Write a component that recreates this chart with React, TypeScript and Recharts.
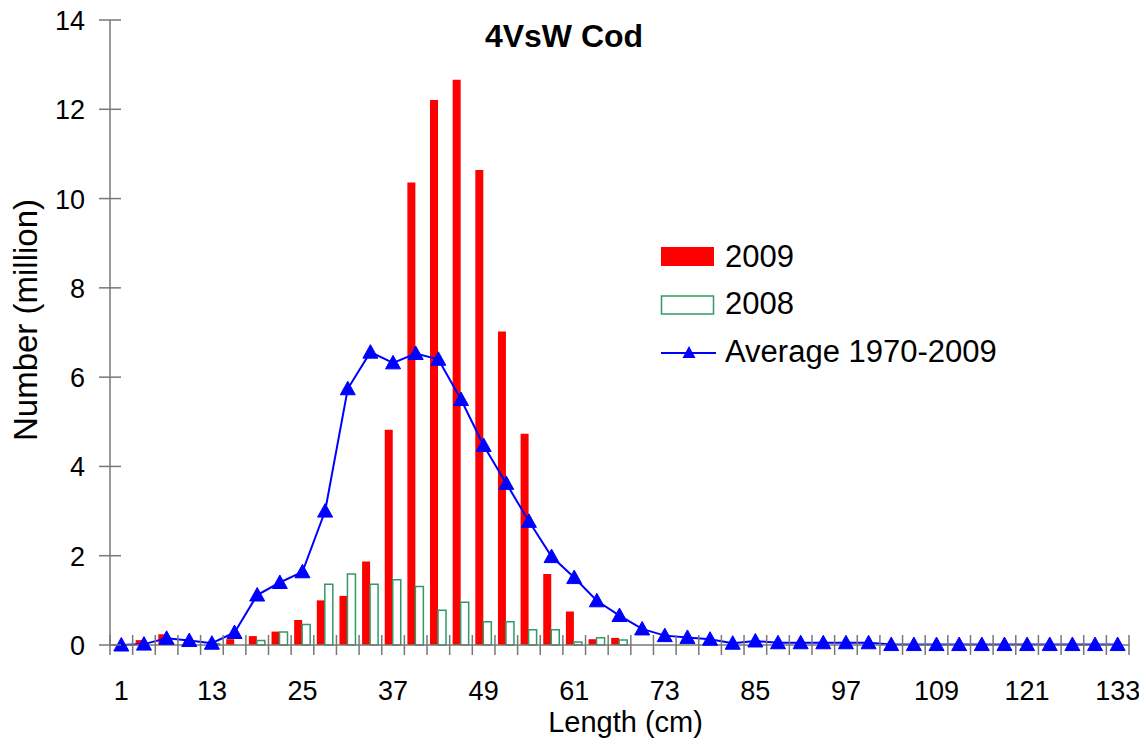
import React from "react";
import {
  ComposedChart,
  Bar,
  Line,
  XAxis,
  YAxis,
  Legend,
} from "recharts";

// length classes (cm)
const lengths = [
  1, 4, 7, 10, 13, 16, 19, 22, 25, 28, 31, 34, 37, 40, 43, 46, 49, 52, 55, 58,
  61, 64, 67, 70, 73, 76, 79, 82, 85, 88, 91, 94, 97, 100, 103, 106, 109, 112,
  115, 118, 121, 124, 127, 130, 133,
];

// numbers at length, millions
const n2009 = [
  0, 0.11, 0.24, 0, 0, 0.13, 0.2, 0.3, 0.56, 1.0, 1.1, 1.87, 4.82, 10.36, 12.21,
  12.66, 10.64, 7.02, 4.73, 1.59, 0.75, 0.13, 0.16, 0, 0, 0, 0, 0, 0, 0, 0, 0,
  0, 0, 0, 0, 0, 0, 0, 0, 0, 0, 0, 0, 0,
];

const n2008 = [
  0, 0, 0, 0, 0.03, 0, 0.1, 0.29, 0.46, 1.36, 1.59, 1.36, 1.46, 1.31, 0.78,
  0.96, 0.52, 0.52, 0.34, 0.34, 0.07, 0.16, 0.11, 0, 0, 0, 0, 0, 0, 0, 0, 0, 0,
  0, 0, 0, 0, 0, 0, 0, 0, 0, 0, 0, 0,
];

const avg = [
  0, 0.02, 0.15, 0.1, 0.04, 0.28, 1.12, 1.4, 1.64, 3.0, 5.74, 6.56, 6.32, 6.53,
  6.4, 5.5, 4.47, 3.62, 2.77, 1.98, 1.51, 0.99, 0.66, 0.36, 0.21, 0.17, 0.13,
  0.04, 0.09, 0.05, 0.05, 0.05, 0.05, 0.05, 0.01, 0.01, 0.01, 0.01, 0.01, 0.01,
  0.01, 0.01, 0.01, 0.01, 0.01,
];

const yTicks = [0, 2, 4, 6, 8, 10, 12, 14];

const data = lengths.map((len, i) => ({
  len,
  y2009: n2009[i],
  y2008: n2008[i],
  avg: avg[i],
}));

const FONT = "'Liberation Sans', Arial, Helvetica, sans-serif";
const AXIS = "#777";
// chart is pulled over the body margin so it covers the whole window
const W = 1147;
const H = 750;
const M = { top: 20, right: 18, left: 50, bottom: 25 };
const Y_W = 60;
const plotW = W - M.left - M.right - Y_W;
const band = plotW / lengths.length;

const Triangle = (props: any) => {
  const { cx, cy } = props;
  if (cx == null || cy == null) return null;
  return (
    <polygon
      points={`${cx},${cy - 7.5} ${cx - 7.5},${cy + 6} ${cx + 7.5},${cy + 6}`}
      fill="#0000ff"
      stroke="#0000ff"
      strokeWidth={1}
    />
  );
};

const XTick = (props: any) => {
  const { x, y, index, payload } = props;
  const half = payload && payload.offset ? payload.offset : band / 2;
  const last = index === lengths.length - 1;
  return (
    <g>
      <line x1={x - half} x2={x - half} y1={y - 10} y2={y + 10} stroke={AXIS} strokeWidth={1.5} />
      {last && (
        <line x1={x + half} x2={x + half} y1={y - 10} y2={y + 10} stroke={AXIS} strokeWidth={1.5} />
      )}
      {index % 4 === 0 && (
        <text x={x} y={y + 55} textAnchor="middle" fontSize={27} fill="#000" fontFamily={FONT}>
          {payload.value}
        </text>
      )}
    </g>
  );
};

const YTick = (props: any) => {
  const { x, y, payload } = props;
  return (
    <g>
      <line x1={x - 11} x2={x + 11} y1={y} y2={y} stroke={AXIS} strokeWidth={1.5} />
      <text x={x - 25} y={y + 10} textAnchor="end" fontSize={27} fill="#000" fontFamily={FONT}>
        {payload.value}
      </text>
    </g>
  );
};

const XTitle = (props: any) => {
  const { viewBox } = props;
  return (
    <text
      x={viewBox.x + viewBox.width / 2 + 6}
      y={viewBox.y + 87}
      textAnchor="middle"
      fontSize={29}
      fill="#000"
      fontFamily={FONT}
    >
      Length (cm)
    </text>
  );
};

const YTitle = () => {
  const cx = 25;
  const cy = 320;
  return (
    <text
      x={cx}
      y={cy}
      transform={`rotate(-90 ${cx} ${cy})`}
      textAnchor="middle"
      dominantBaseline="central"
      fontSize={33}
      fill="#000"
      fontFamily={FONT}
    >
      Number (million)
    </text>
  );
};

const LegendBox = () => (
  <svg width={400} height={150} style={{ overflow: "visible" }}>
    <rect x={6} y={12} width={53} height={19} fill="#ff0000" />
    <text x={70} y={32} fontSize={31} fontFamily={FONT} fill="#000">2009</text>
    <rect x={6.5} y={61} width={52} height={18} fill="#fff" stroke="#339966" strokeWidth={1.5} />
    <text x={70} y={79} fontSize={31} fontFamily={FONT} fill="#000">2008</text>
    <line x1={6} x2={61} y1={118} y2={118} stroke="#0000ff" strokeWidth={2} />
    <polygon points="34,111 27.5,123 40.5,123" fill="#0000ff" />
    <text x={70} y={127} fontSize={31} fontFamily={FONT} fill="#000">Average 1970-2009</text>
  </svg>
);

export default function App() {
  return (
    <div
      style={{
        position: "relative",
        width: W,
        height: H,
        margin: "-8px 0 0 -8px",
        fontFamily: FONT,
      }}
    >
      <div
        style={{
          position: "absolute",
          left: 0,
          width: 1128,
          top: 16,
          textAlign: "center",
          fontWeight: "bold",
          fontSize: 32,
          lineHeight: "40px",
          zIndex: 2,
        }}
      >
        4VsW Cod
      </div>
      <ComposedChart width={W} height={H} data={data} margin={M} barGap={0} barSize={8}>
        <XAxis
          dataKey="len"
          interval={0}
          tickLine={false}
          tickSize={0}
          tickMargin={0}
          height={80}
          stroke={AXIS}
          strokeWidth={1.5}
          tick={<XTick />}
          label={<XTitle />}
        />
        <YAxis
          domain={[0, 14]}
          ticks={yTicks}
          interval={0}
          width={Y_W}
          tickLine={false}
          tickSize={0}
          tickMargin={0}
          stroke={AXIS}
          strokeWidth={1.5}
          tick={<YTick />}
          label={<YTitle />}
        />
        <Legend
          layout="vertical"
          align="center"
          verticalAlign="middle"
          wrapperStyle={{ left: 655, top: 235, width: 400, height: 150 }}
          content={() => <LegendBox />}
        />
        <Bar dataKey="y2009" name="2009" fill="#ff0000" isAnimationActive={false} />
        <Bar
          dataKey="y2008"
          name="2008"
          fill="#ffffff"
          stroke="#339966"
          strokeWidth={1.5}
          isAnimationActive={false}
        />
        <Line
          dataKey="avg"
          name="Average 1970-2009"
          type="linear"
          stroke="#0000ff"
          strokeWidth={2}
          dot={<Triangle />}
          activeDot={false}
          isAnimationActive={false}
        />
      </ComposedChart>
    </div>
  );
}
